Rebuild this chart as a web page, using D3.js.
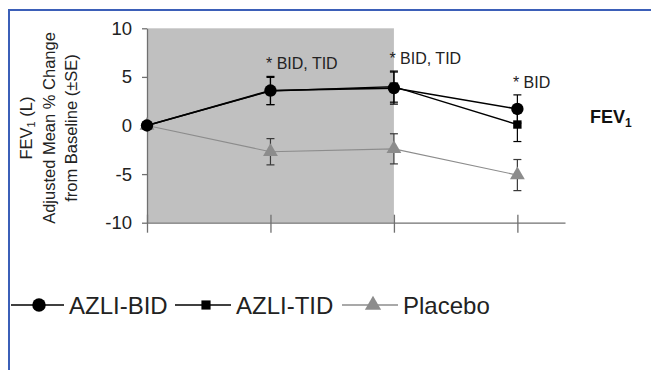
<!DOCTYPE html>
<html>
<head>
<meta charset="utf-8">
<script src="https://cdn.jsdelivr.net/npm/d3@7"></script>
<style>
  html, body { margin: 0; padding: 0; background: #fff; }
  svg { display: block; font-family: "Liberation Sans", Arial, sans-serif; }
</style>
</head>
<body>
<svg id="chart" width="651" height="370"></svg>
<script>
// Study days of the visits (treatment period runs day 0 to day 28)
const days = [0, 14, 28, 42];
const treatmentEnd = 28;

// Adjusted mean % change in FEV1 from baseline, with standard errors
const bidMean = [0, 3.6, 3.85, 1.7];
const bidSE = [0, 1.45, 1.65, 1.45];
const tidMean = [0, 3.55, 4.0, 0.1];
const tidSE = [0, 1.4, 1.6, 1.75];
const placeboMean = [0, -2.7, -2.4, -5.1];
const placeboSE = [0, 1.35, 1.55, 1.6];

const yTicks = [-10, -5, 0, 5, 10];
const seriesNames = ["AZLI-BID", "AZLI-TID", "Placebo"];

// Significance notes over the visits
const noteDays = [14, 28, 42];
const noteTexts = ["* BID, TID", "* BID, TID", "* BID"];

const svg = d3.select("#chart");

const x = d3.scaleLinear().domain([0, 47.4]).range([147, 565]);
const y = d3.scaleLinear().domain([-10, 10]).range([222.7, 28.3]);

// Treatment-period shading
svg.append("rect")
  .attr("x", x(0)).attr("y", y(10))
  .attr("width", x(treatmentEnd) - x(0)).attr("height", y(-10) - y(10))
  .attr("fill", "#c0c0c0");

// Y axis (plain hyphen for negatives)
const yAxis = svg.append("g").attr("transform", `translate(${x(0)},0)`)
  .call(d3.axisLeft(y).tickValues(yTicks).tickFormat(d => String(d))
    .tickSize(5).tickPadding(10).tickSizeOuter(0));
yAxis.select(".domain").attr("stroke", "#707070").attr("stroke-width", 1.3);
yAxis.selectAll(".tick line").attr("stroke", "#707070").attr("stroke-width", 1.3);
yAxis.selectAll(".tick text").attr("font-size", 18.5).attr("fill", "#222")
  .attr("font-family", "Liberation Sans, Arial, sans-serif");

// X axis (ticks cross the axis line)
const xAxis = svg.append("g").attr("transform", `translate(0,${y(-10)})`)
  .call(d3.axisBottom(x).tickValues(days).tickSize(10).tickFormat("").tickSizeOuter(0));
xAxis.select(".domain").attr("stroke", "#707070").attr("stroke-width", 1.3);
xAxis.selectAll(".tick line").attr("y1", -8).attr("stroke", "#707070").attr("stroke-width", 1.3);

// Y axis title
const title = svg.append("text")
  .attr("transform", `translate(0,128) rotate(-90)`)
  .attr("text-anchor", "middle").attr("font-size", 16.5).attr("fill", "#222");
const l1 = title.append("tspan").attr("x", 0).attr("y", 32);
l1.append("tspan").text("FEV");
l1.append("tspan").attr("font-size", 11).attr("dy", 3).text("1");
l1.append("tspan").attr("dy", -3).text(" (L)");
title.append("tspan").attr("x", 0).attr("y", 55).text("Adjusted Mean % Change");
title.append("tspan").attr("x", 0).attr("y", 77).text("from Baseline (\u00B1SE)");

const series = [
  { name: seriesNames[0], mean: bidMean, se: bidSE, color: "#000", bar: "#000", shape: d3.symbolCircle, size: 120, width: 1.6 },
  { name: seriesNames[1], mean: tidMean, se: tidSE, color: "#000", bar: "#000", shape: d3.symbolSquare, size: 70, width: 1.4 },
  { name: seriesNames[2], mean: placeboMean, se: placeboSE, color: "#8c8c8c", bar: "#3a3a3a", shape: d3.symbolTriangle, size: 95, width: 1.2 }
];

const line = d3.line().x(d => x(d.day)).y(d => y(d.v));

// Draw placebo first so active arms sit on top
[series[2], series[1], series[0]].forEach(s => {
  const pts = days.map((d, i) => ({ day: d, v: s.mean[i], se: s.se[i] }));
  const g = svg.append("g");
  g.append("path").datum(pts).attr("d", line)
    .attr("fill", "none").attr("stroke", s.color).attr("stroke-width", s.width);
  pts.filter(p => p.se > 0).forEach(p => {
    const cx = x(p.day), top = y(p.v + p.se), bot = y(p.v - p.se);
    g.append("line").attr("x1", cx).attr("x2", cx).attr("y1", top).attr("y2", bot)
      .attr("stroke", s.bar).attr("stroke-width", 1.2);
    [top, bot].forEach(yy => g.append("line")
      .attr("x1", cx - 4).attr("x2", cx + 4).attr("y1", yy).attr("y2", yy)
      .attr("stroke", s.bar).attr("stroke-width", 1.2));
  });
  g.selectAll("path.m").data(pts).join("path").attr("class", "m")
    .attr("transform", p => `translate(${x(p.day)},${y(p.v)})`)
    .attr("d", d3.symbol().type(s.shape).size(s.size))
    .attr("fill", s.color);
});

// Significance notes above the highest error bar at each visit
noteDays.forEach((d, k) => {
  const i = days.indexOf(d);
  const topVal = d3.max(series, s => s.mean[i] + s.se[i]);
  svg.append("text")
    .attr("x", x(d) - 4.5).attr("y", y(topVal) - 7)
    .attr("font-size", 16).attr("fill", "#222")
    .text(noteTexts[k]);
});

// Panel label
const fev = svg.append("text").attr("x", 590).attr("y", 123)
  .attr("font-size", 18).attr("font-weight", "bold").attr("fill", "#111");
fev.append("tspan").text("FEV");
fev.append("tspan").attr("font-size", 12).attr("dy", 4).text("1");

// Legend
const legendY = 305;
const legendX = [8, 175, 342];
series.forEach((s, i) => {
  const lx = legendX[i];
  const g = svg.append("g");
  g.append("line").attr("x1", Math.max(lx, 11)).attr("x2", lx + 56).attr("y1", legendY).attr("y2", legendY)
    .attr("stroke", s.color).attr("stroke-width", 1.3);
  g.append("path").attr("transform", `translate(${lx + 31},${legendY})`)
    .attr("d", d3.symbol().type(s.shape).size(s.size * 1.2)).attr("fill", s.color);
  g.append("text").attr("x", lx + 61).attr("y", legendY + 9)
    .attr("font-size", 24).attr("fill", "#222").text(s.name);
});

// Frame (open on the right and bottom)
svg.append("line").attr("x1", 9).attr("x2", 651).attr("y1", 10).attr("y2", 10)
  .attr("stroke", "#3b5fb8").attr("stroke-width", 2);
svg.append("line").attr("x1", 9).attr("x2", 9).attr("y1", 9).attr("y2", 370)
  .attr("stroke", "#3b5fb8").attr("stroke-width", 2);
</script>
</body>
</html>
